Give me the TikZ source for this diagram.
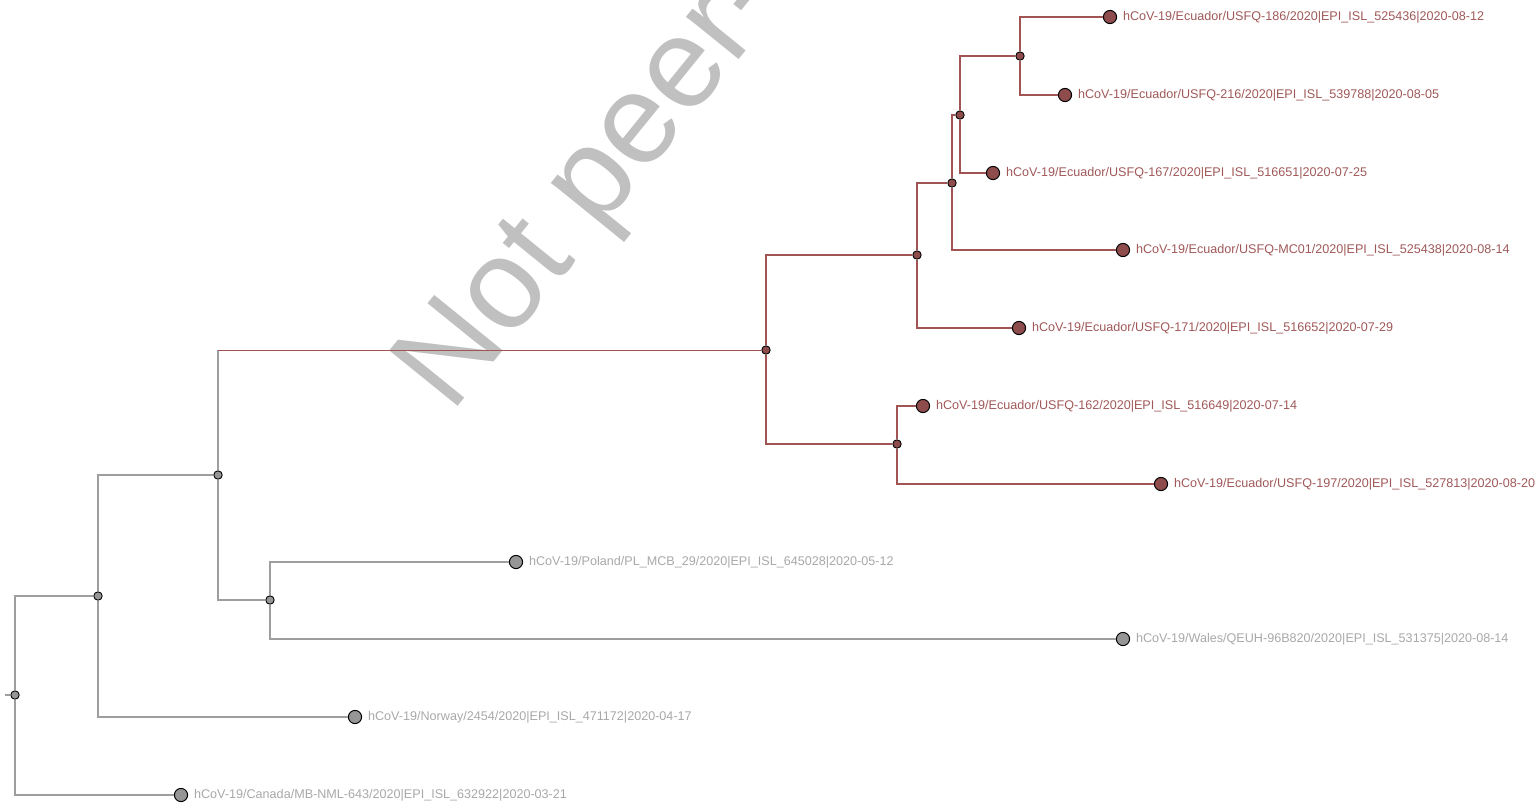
\documentclass[tikz,border=0pt]{standalone}
\usepackage{fontspec}
\setmainfont{Liberation Sans}
\usetikzlibrary{positioning}

\definecolor{greyline}{RGB}{158,158,158}
\definecolor{greyfill}{RGB}{150,150,150}
\definecolor{greytext}{RGB}{168,168,168}
\definecolor{redline}{RGB}{160,84,84}
\definecolor{redfill}{RGB}{142,76,76}
\definecolor{redtext}{RGB}{160,88,88}
\definecolor{markgrey}{RGB}{192,192,192}

\tikzset{
    grey branch/.style={draw=greyline,line width=0.65pt},
    red branch/.style={draw=redline,line width=0.7pt},
    leaf/.style={circle,draw=black,line width=0.5pt,inner sep=0pt,minimum size=6.6pt},
    inner/.style={circle,draw=black,line width=0.45pt,inner sep=0pt,minimum size=4.2pt},
    grey leaf/.style={leaf,fill=greyfill},
    red leaf/.style={leaf,fill=redfill},
    grey inner/.style={inner,fill=greyfill},
    red inner/.style={inner,fill=redfill},
    label/.style={inner sep=0pt,anchor=west,font=\fontsize{6.3}{7}\selectfont},
    grey label/.style={label,text=greytext,right=2.8pt of #1},
    red label/.style={label,text=redtext,right=2.8pt of #1}
}

\begin{document}
\begin{tikzpicture}[x=0.5pt,y=-0.5pt]
        \useasboundingbox (0,0) rectangle (1539,805);

        % Watermark
        \begin{scope}
            \clip (0,0) rectangle (1539,805);
            \node[text=markgrey,font=\fontsize{64}{66}\selectfont,rotate=51,anchor=base west,inner sep=0pt] (mark) at (451,415) {Not peer-reviewed};
        \end{scope}

        % Internal nodes
        \node[grey inner] (root) at (15,695) {};
        \node[grey inner] (n1) at (98,596) {};
        \node[grey inner] (n2) at (218,475) {};
        \node[grey inner] (n3) at (270,600) {};
        \node[red inner] (e0) at (766,350) {};
        \node[red inner] (e1) at (917,255) {};
        \node[red inner] (e2) at (952,183) {};
        \node[red inner] (e3) at (960,115) {};
        \node[red inner] (e4) at (1020,56) {};
        \node[red inner] (e5) at (897,444) {};
        \coordinate (stub) at (5,695);

        % Leaves
        \node[grey leaf] (canada) at (181,795) {};
        \node[grey leaf] (norway) at (355,717) {};
        \node[grey leaf] (poland) at (516,562) {};
        \node[grey leaf] (wales) at (1123,639) {};
        \node[red leaf] (q186) at (1110,17) {};
        \node[red leaf] (q216) at (1065,95) {};
        \node[red leaf] (q167) at (993,173) {};
        \node[red leaf] (mc01) at (1123,250) {};
        \node[red leaf] (q171) at (1019,328) {};
        \node[red leaf] (q162) at (923,406) {};
        \node[red leaf] (q197) at (1161,484) {};

        % Labels
        \node[grey label=canada] (tcanada) {hCoV-19/Canada/MB-NML-643/2020|EPI\_ISL\_632922|2020-03-21};
        \node[grey label=norway] (tnorway) {hCoV-19/Norway/2454/2020|EPI\_ISL\_471172|2020-04-17};
        \node[grey label=poland] (tpoland) {hCoV-19/Poland/PL\_MCB\_29/2020|EPI\_ISL\_645028|2020-05-12};
        \node[grey label=wales] (twales) {hCoV-19/Wales/QEUH-96B820/2020|EPI\_ISL\_531375|2020-08-14};
        \node[red label=q186] (tq186) {hCoV-19/Ecuador/USFQ-186/2020|EPI\_ISL\_525436|2020-08-12};
        \node[red label=q216] (tq216) {hCoV-19/Ecuador/USFQ-216/2020|EPI\_ISL\_539788|2020-08-05};
        \node[red label=q167] (tq167) {hCoV-19/Ecuador/USFQ-167/2020|EPI\_ISL\_516651|2020-07-25};
        \node[red label=mc01] (tmc01) {hCoV-19/Ecuador/USFQ-MC01/2020|EPI\_ISL\_525438|2020-08-14};
        \node[red label=q171] (tq171) {hCoV-19/Ecuador/USFQ-171/2020|EPI\_ISL\_516652|2020-07-29};
        \node[red label=q162] (tq162) {hCoV-19/Ecuador/USFQ-162/2020|EPI\_ISL\_516649|2020-07-14};
        \node[red label=q197] (tq197) {hCoV-19/Ecuador/USFQ-197/2020|EPI\_ISL\_527813|2020-08-20};

        % Grey branches
        \draw[grey branch] (stub) -- (root);
        \draw[grey branch] (root) |- (n1);
        \draw[grey branch] (root) |- (canada);
        \draw[grey branch] (n1) |- (n2);
        \draw[grey branch] (n1) |- (norway);
        \draw[grey branch] (n2) |- (n3);
        \draw[grey branch] (n3) |- (poland);
        \draw[grey branch] (n3) |- (wales);
        \draw[grey branch] (n2) -- (n2 |- e0);
        \draw[draw=redline,line width=0.45pt] (n2 |- e0) -- (e0);

        % Ecuador branches
        \draw[red branch] (e0) |- (e1);
        \draw[red branch] (e0) |- (e5);
        \draw[red branch] (e1) |- (e2);
        \draw[red branch] (e1) |- (q171);
        \draw[red branch] (e2) |- (e3);
        \draw[red branch] (e2) |- (mc01);
        \draw[red branch] (e3) |- (e4);
        \draw[red branch] (e3) |- (q167);
        \draw[red branch] (e4) |- (q186);
        \draw[red branch] (e4) |- (q216);
        \draw[red branch] (e5) |- (q162);
        \draw[red branch] (e5) |- (q197);
    \end{tikzpicture}
\end{document}
